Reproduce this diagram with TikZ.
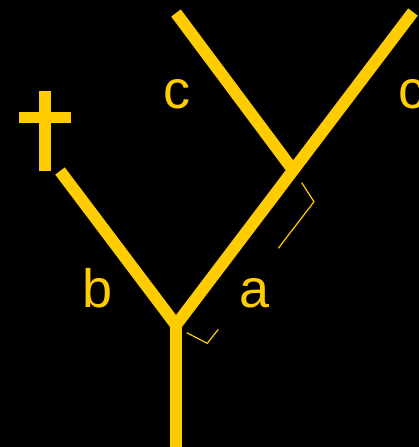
\documentclass[tikz,border=0pt]{standalone}
\usepackage{fontspec}
\setmainfont{Liberation Sans}
\definecolor{gold}{HTML}{FFCC00}
\begin{document}
\begin{tikzpicture}[x=1pt,y=-1pt,
  branch/.style={draw=gold,line width=12pt,line cap=butt,line join=miter},
  bracket/.style={draw=gold,line width=1.2pt},
  lbl/.style={text=gold,anchor=base,inner sep=0pt,font=\fontsize{54}{60}\selectfont}]
\fill[black] (0,0) rectangle (419,447);
\useasboundingbox (0,0) rectangle (419,447);
% tree points
\coordinate (root) at (176,447);
\coordinate (fork) at (176,325);
\coordinate (btip) at (60,171);
\coordinate (rtip) at (413,12);
\coordinate (node2) at (293,170);
\coordinate (ctip) at (176,13);
\draw[branch] (root) -- (fork);
\draw[branch] (btip) -- (fork) -- (rtip);
\draw[branch] (node2) -- (ctip);
% cross
\fill[gold] (39,91) rectangle (51,171);
\fill[gold] (19,112) rectangle (71,123);
% brackets
\coordinate (u1) at (301.7,182.7);
\coordinate (u2) at (314,201.7);
\coordinate (u3) at (278.3,248.3);
\draw[bracket] (u1) -- (u2) -- (u3);
\coordinate (l1) at (186.7,332.7);
\coordinate (l2) at (207.3,343.3);
\coordinate (l3) at (218.3,329.3);
\draw[bracket] (l1) -- (l2) -- (l3);
% labels
\node[lbl] (lc1) at (177,108) {c};
\node[lbl] (lc2) at (412,108) {c};
\node[lbl] (lb) at (98,307) {b};
\node[lbl] (la) at (255,307) {a};
\end{tikzpicture}
\end{document}
